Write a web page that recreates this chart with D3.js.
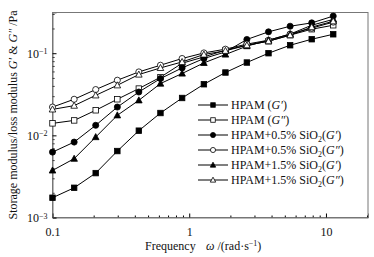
<!DOCTYPE html>
<html>
<head>
<meta charset="UTF-8"/>
<style>
  body { margin: 0; background: #fff; }
  text { font-family: "Liberation Serif", "Times New Roman", serif; fill: #111; }
</style>
</head>
<body>
<script src="https://d3js.org/d3.v7.min.js"></script>
<script>
// angular frequency (rad/s)
var freq = [0.1, 0.144, 0.207, 0.298, 0.428, 0.616, 0.887, 1.28, 1.84, 2.64, 3.80, 5.47, 7.87, 11.3];

var hpamG1   = [0.00174, 0.0023, 0.00347, 0.00644, 0.0114, 0.0187, 0.0285, 0.0419, 0.0582, 0.077, 0.1, 0.125, 0.148, 0.17];
var hpamG2   = [0.0140, 0.0152, 0.0202, 0.0275, 0.0371, 0.0510, 0.0755, 0.0901, 0.109, 0.125, 0.140, 0.166, 0.196, 0.219];
var si05G1   = [0.00625, 0.00828, 0.01325, 0.0221, 0.0337, 0.0491, 0.0662, 0.0862, 0.1037, 0.147, 0.182, 0.213, 0.234, 0.283];
var si05G2   = [0.0221, 0.0275, 0.0361, 0.0469, 0.0592, 0.0714, 0.0862, 0.1008, 0.112, 0.129, 0.144, 0.171, 0.202, 0.239];
var si15G1   = [0.00374, 0.0052, 0.00953, 0.01754, 0.0267, 0.0427, 0.0566, 0.0762, 0.0964, 0.122, 0.144, 0.171, 0.219, 0.258];
var si15G2   = [0.0207, 0.0230, 0.0307, 0.0407, 0.055, 0.0662, 0.0783, 0.0964, 0.107, 0.125, 0.140, 0.166, 0.208, 0.245];

var xTicks = [0.1, 1, 10];
var yTicks = [0.001, 0.01, 0.1];

var series = [
  {name: "HPAM", sio2: false, g: "′",  shape: "square",   fill: true,  values: hpamG1},
  {name: "HPAM", sio2: false, g: "″",  shape: "square",   fill: false, values: hpamG2},
  {name: "HPAM+0.5% SiO", sio2: true, g: "′", shape: "circle",   fill: true,  values: si05G1},
  {name: "HPAM+0.5% SiO", sio2: true, g: "″", shape: "circle",   fill: false, values: si05G2},
  {name: "HPAM+1.5% SiO", sio2: true, g: "′", shape: "triangle", fill: true,  values: si15G1},
  {name: "HPAM+1.5% SiO", sio2: true, g: "″", shape: "triangle", fill: false, values: si15G2}
];

var width = 374, height = 257;
var mLeft = 52.5, mRight = 368, mTop = 12.5, mBottom = 217.5;

var svg = d3.select("body").append("svg")
  .attr("width", width)
  .attr("height", height);

var x = d3.scaleLog().domain([0.1, 20.3]).range([mLeft, mRight]);
var y = d3.scaleLog().domain([0.001, 0.313]).range([mBottom, mTop]);

function minorTicks(lo, hi) {
  var out = [];
  for (var e = -4; e <= 2; e++) {
    for (var m = 2; m <= 9; m++) {
      var v = m * Math.pow(10, e);
      if (v > lo && v < hi) out.push(v);
    }
  }
  return out;
}

// frame
svg.append("rect")
  .attr("x", mLeft).attr("y", mTop)
  .attr("width", mRight - mLeft).attr("height", mBottom - mTop)
  .attr("fill", "none").attr("stroke", "#777").attr("stroke-width", 1);

// x axis
svg.append("g")
  .attr("transform", "translate(0," + mBottom + ")")
  .call(d3.axisBottom(x).tickValues(minorTicks(0.1, 20.3)).tickSize(-2).tickFormat(""))
  .call(g => g.select(".domain").remove());
var gx = svg.append("g")
  .attr("transform", "translate(0," + mBottom + ")")
  .call(d3.axisBottom(x).tickValues(xTicks).tickSize(-4).tickPadding(10).tickFormat(d3.format("~g")));
gx.select(".domain").attr("stroke", "#777");
gx.selectAll("text").attr("font-size", 12).attr("font-family", "Liberation Serif, serif").attr("fill", "#111");

// y axis
svg.append("g")
  .attr("transform", "translate(" + mLeft + ",0)")
  .call(d3.axisLeft(y).tickValues(minorTicks(0.001, 0.313)).tickSize(-2).tickFormat(""))
  .call(g => g.select(".domain").remove());
var gy = svg.append("g")
  .attr("transform", "translate(" + mLeft + ",0)")
  .call(d3.axisLeft(y).tickValues(yTicks).tickSize(-4).tickPadding(5).tickFormat(""));
gy.select(".domain").attr("stroke", "#777");
gy.selectAll(".tick").each(function(d) {
  var t = d3.select(this).append("text")
    .attr("x", -5).attr("dy", "0.35em")
    .attr("text-anchor", "end")
    .attr("font-size", 12);
  t.append("tspan").text("10");
  t.append("tspan").attr("dy", "-0.45em").attr("font-size", 8)
    .text("−" + Math.abs(Math.round(Math.log10(d))));
});

// series lines and markers
var line = d3.line()
  .x(function(d) { return x(d[0]); })
  .y(function(d) { return y(d[1]); });

function marker(g, shape, filled, cx, cy, s) {
  var fill = filled ? "#000" : "#fff";
  if (shape === "square") {
    g.append("rect").attr("x", cx - s / 2).attr("y", cy - s / 2).attr("width", s).attr("height", s)
      .attr("fill", fill).attr("stroke", "#000").attr("stroke-width", 0.8);
  } else if (shape === "circle") {
    g.append("circle").attr("cx", cx).attr("cy", cy).attr("r", s / 2 + 0.3)
      .attr("fill", fill).attr("stroke", "#000").attr("stroke-width", 0.8);
  } else {
    var h = s * 1.05;
    g.append("path")
      .attr("d", "M" + cx + "," + (cy - h * 0.6) + "L" + (cx + s * 0.6) + "," + (cy + h * 0.45) + "L" + (cx - s * 0.6) + "," + (cy + h * 0.45) + "Z")
      .attr("fill", fill).attr("stroke", "#000").attr("stroke-width", 0.8);
  }
}

var plot = svg.append("g");
series.forEach(function(s) {
  var pts = freq.map(function(f, i) { return [f, s.values[i]]; });
  plot.append("path").datum(pts)
    .attr("d", line)
    .attr("fill", "none").attr("stroke", "#000").attr("stroke-width", 1);
});
series.forEach(function(s) {
  var g = plot.append("g");
  freq.forEach(function(f, i) {
    marker(g, s.shape, s.fill, x(f), y(s.values[i]), 5.5);
  });
});

// legend
var legend = svg.append("g");
series.forEach(function(s, i) {
  var ly = 105 + i * 15;
  legend.append("line").attr("x1", 198).attr("x2", 228).attr("y1", ly).attr("y2", ly)
    .attr("stroke", "#000").attr("stroke-width", 1);
  marker(legend, s.shape, s.fill, 213, ly, 4.5);
  var t = legend.append("text").attr("x", 231).attr("y", ly + 4).attr("font-size", 12);
  t.append("tspan").text(s.name);
  if (s.sio2) {
    t.append("tspan").attr("dy", 3).attr("font-size", 8).text("2");
    t.append("tspan").attr("dy", -3).text("(");
  } else {
    t.append("tspan").text(" (");
  }
  t.append("tspan").attr("font-style", "italic").text("G" + s.g);
  t.append("tspan").text(")");
});

// axis titles
var xt = svg.append("text").attr("x", 145).attr("y", 250).attr("font-size", 12);
xt.append("tspan").text("Frequency");
xt.append("tspan").attr("x", 206).attr("font-style", "italic").text("ω");
xt.append("tspan").text(" /(rad·s");
xt.append("tspan").attr("dy", -4).attr("font-size", 8).text("−1");
xt.append("tspan").attr("dy", 4).text(")");

var yt = svg.append("text")
  .attr("transform", "translate(17," + ((mTop + mBottom) / 2) + ") rotate(-90)")
  .attr("text-anchor", "middle")
  .attr("font-size", 12);
yt.append("tspan").text("Storage modulus/loss modulus ");
yt.append("tspan").attr("font-style", "italic").text("G′");
yt.append("tspan").text(" & ");
yt.append("tspan").attr("font-style", "italic").text("G″");
yt.append("tspan").text(" /Pa");
</script>
</body>
</html>
